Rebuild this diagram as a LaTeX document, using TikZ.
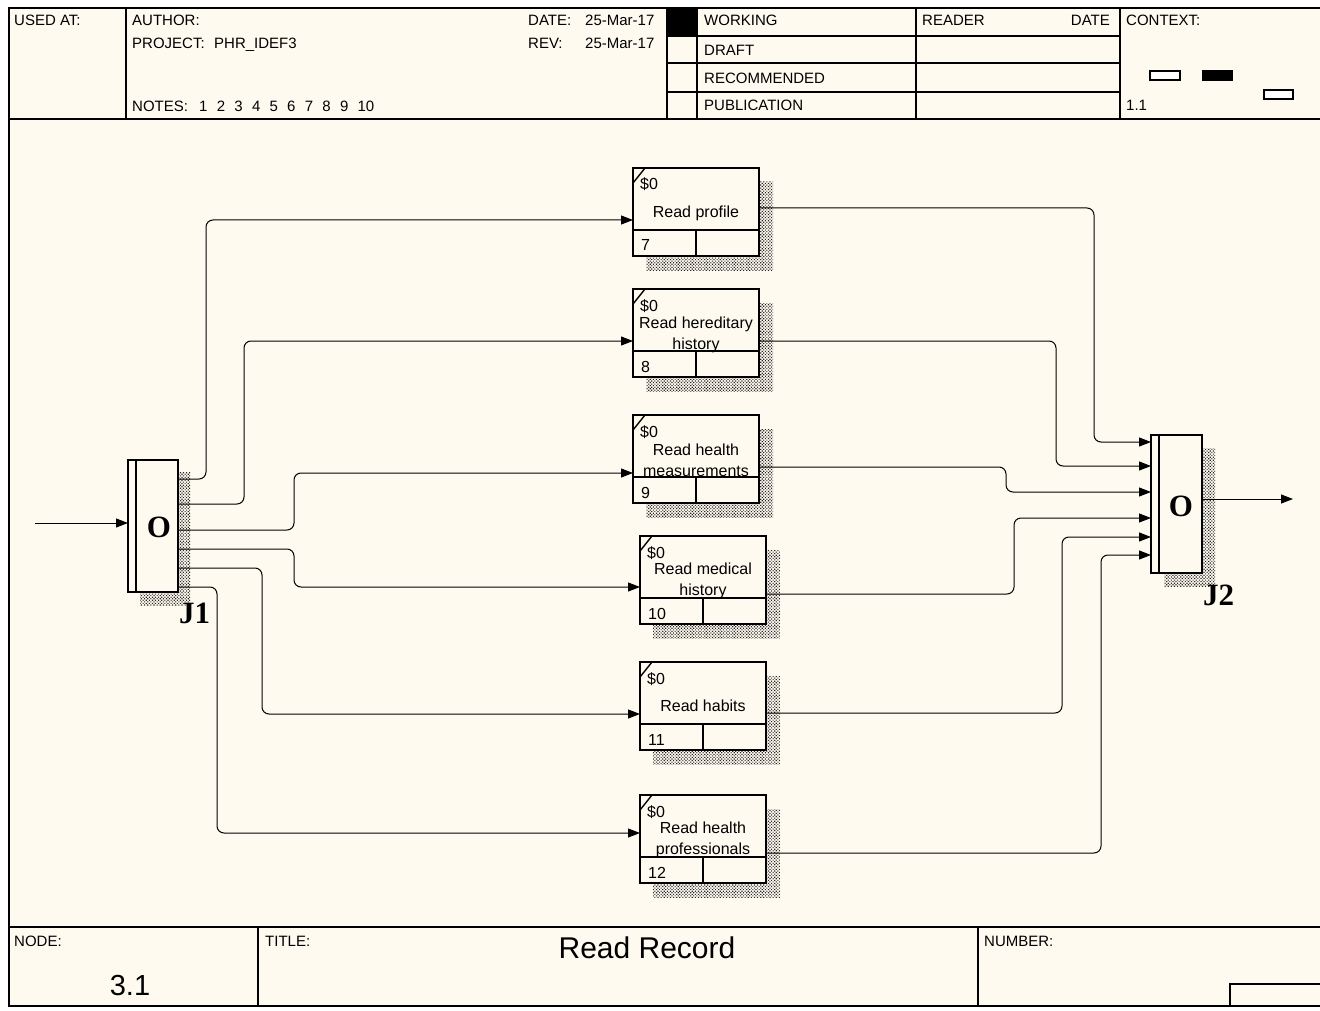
\documentclass[tikz,border=0pt]{standalone}
\usepackage{fontspec}
\setmainfont{Liberation Sans}
\newfontfamily\jfont{Liberation Serif}
\usetikzlibrary{arrows.meta,patterns.meta}
\definecolor{paper}{HTML}{FFFAF0}

\tikzset{
  hdr/.style={font=\fontsize{15}{18}\selectfont, inner sep=0pt, anchor=base west},
  rule/.style={line width=1.5pt},
  uob/.style={draw, line width=1.7pt, fill=paper, inner sep=0pt, outer sep=0pt,
    minimum width=126pt, minimum height=88pt, anchor=north west},
  jbox/.style={draw, line width=1.7pt, fill=paper, inner sep=0pt, outer sep=0pt, anchor=north west},
  shade/.style={pattern={Dots[distance=2.2pt, radius=0.8pt, angle=45]}, pattern color=black!85},
  flow/.style={line width=1pt, rounded corners=7pt, -{Triangle[length=12pt,width=9pt]}},
  lbl/.style={font=\fontsize{16}{21}\selectfont, inner sep=0pt, align=center, anchor=base},
  boxtxt/.style={font=\fontsize{16}{19}\selectfont, inner sep=0pt, anchor=base west},
  jtext/.style={font=\jfont\bfseries\fontsize{31}{31}\selectfont, inner sep=0pt},
}

\begin{document}
\begin{tikzpicture}[x=1pt,y=-1pt]
\useasboundingbox (0,0) rectangle (1320,1011);
\fill[white] (0,0) rectangle (1320,1011);
\fill[paper] (8,8) rectangle (1320,1006);

% Frame
\draw[line width=2pt] (1320,8) -- (9,8) -- (9,1006) -- (1320,1006);
\draw[rule] (9,119) -- (1320,119);
\draw[rule] (9,927) -- (1320,927);

% Header
\foreach \x in {126,667,697,916,1120} {
    \draw[rule] (\x,8) -- (\x,119);
}
\foreach \y in {36,63,92} {
    \draw[rule] (667,\y) -- (1120,\y);
}
\fill (667,8) rectangle (697,36);
\node[hdr] (usedat) at (14,26) {USED AT:};
\node[hdr] (author) at (132,26) {AUTHOR:};
\node[hdr] (project) at (132,49) {PROJECT:};
\node[hdr] (projname) at (214,49) {PHR\_IDEF3};
\node[hdr] (notes) at (132,112) {NOTES:};
\foreach \k in {1,...,10} {
    \node[hdr] (note\k) at (199+17.6*\k-17.6,112) {\k};
}
\node[hdr] (datelbl) at (528,26) {DATE:};
\node[hdr] (dateval) at (585,26) {25-Mar-17};
\node[hdr] (revlbl) at (528,49) {REV:};
\node[hdr] (revval) at (585,49) {25-Mar-17};
\node[hdr] (working) at (704,26) {WORKING};
\node[hdr] (draft) at (704,56) {DRAFT};
\node[hdr] (recommended) at (704,84) {RECOMMENDED};
\node[hdr] (publication) at (704,111) {PUBLICATION};
\node[hdr] (reader) at (922,26) {READER};
\node[hdr, anchor=base east] (readdate) at (1110,26) {DATE};
\node[hdr] (context) at (1126,26) {CONTEXT:};
\node[hdr] (ctxnum) at (1126,111) {1.1};
\draw[line width=1.2pt, fill=white] (1150,71) rectangle (1180,80);
\draw[line width=1.2pt, fill=black] (1203,71) rectangle (1232,80);
\draw[line width=1.2pt, fill=white] (1264,90) rectangle (1293,99);

% Footer
\draw[rule] (258,927) -- (258,1006);
\draw[rule] (978,927) -- (978,1006);
\draw[rule] (1230,1006) -- (1230,984) -- (1320,984);
\node[hdr] (nodelbl) at (14,946) {NODE:};
\node[hdr] (titlelbl) at (265,946) {TITLE:};
\node[hdr] (numlbl) at (984,946) {NUMBER:};
\node[font=\fontsize{29}{32}\selectfont, inner sep=0pt, anchor=base] (nodeno) at (130,995) {3.1};
\node[font=\fontsize{30}{33}\selectfont, inner sep=0pt, anchor=base] (title) at (647,958) {Read Record};

% Junctions
\fill[shade] (140,472) rectangle (190,605);
\fill[shade] (1164,448) rectangle (1215,586);
\node[jbox, minimum width=50pt, minimum height=132pt] (J1) at (128,460) {};
\node[jbox, minimum width=51pt, minimum height=138pt] (J2) at (1151,435) {};
\draw[line width=1.7pt] ([xshift=8pt]J1.north west) -- ([xshift=8pt]J1.south west);
\draw[line width=1.7pt] ([xshift=8pt]J2.north west) -- ([xshift=8pt]J2.south west);
\node[jtext] (J1o) at (159,527) {O};
\node[jtext, anchor=base west] (J1l) at (179,623) {J1};
\node[jtext] (J2o) at (1181,506) {O};
\node[jtext, anchor=base west] (J2l) at (1203,605) {J2};

% Units of behaviour (label offset = last baseline)
\foreach \x/\y/\n/\lbl/\bl in {633/168/7/{Read profile}/50,
    633/289/8/{Read hereditary\\history}/60,
    633/415/9/{Read health\\measurements}/61,
    640/536/10/{Read medical\\history}/59,
    640/662/11/{Read habits}/49,
    640/795/12/{Read health\\professionals}/59} {
    \fill[shade] (\x+13,\y+14) rectangle (\x+140,\y+102);
    \node[uob] (u\n) at (\x,\y) {};
    \draw[line width=1.7pt] (\x,\y+62) -- (\x+126,\y+62);
    \draw[line width=1.7pt] (\x+63,\y+62) -- (\x+63,\y+88);
    \draw[line width=1.4pt] (\x,\y+15) -- (\x+12,\y);
    \node[boxtxt] (cost\n) at (\x+7,\y+22) {\$0};
    \node[lbl] (name\n) at (\x+63,\y+\bl) {\lbl};
    \node[boxtxt] (num\n) at (\x+8,\y+83) {\n};
}

% Links
\coordinate (src) at (35,523);
\coordinate (snk) at (1293,499);
\draw[flow] (src) -- (J1.west |- src);
\draw[flow] (J2.east |- snk) -- (snk);
\foreach \n/\ya/\xm/\yb in {7/479/206/220, 8/504/244/341, 9/530/294/473,
    10/549/294/587, 11/568/262/714, 12/587/217/833} {
    \draw[flow] (J1.east |- 0,\ya) -| (\xm,\yb) -- (u\n.west |- 0,\yb);
}
\foreach \n/\ya/\xm/\yb in {7/208/1094/442, 8/341/1056/466, 9/467/1006/492,
    10/594/1014/518, 11/713/1062/537, 12/853/1101/555} {
    \draw[flow] (u\n.east |- 0,\ya) -| (\xm,\yb) -- (J2.west |- 0,\yb);
}
\end{tikzpicture}
\end{document}
